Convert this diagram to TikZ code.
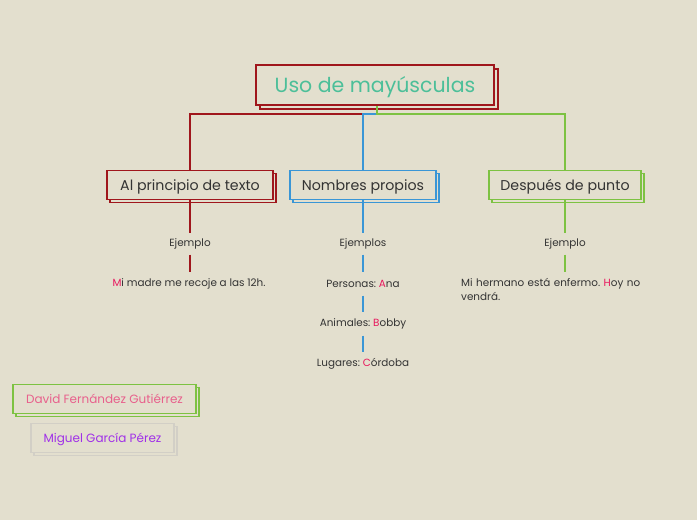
\documentclass[tikz,border=0pt]{standalone}
\usepackage{fontspec}
\setmainfont{Poppins}
\usetikzlibrary{positioning,shadows}
\definecolor{mbg}{HTML}{E3DFCE}
\definecolor{mred}{HTML}{A0161C}
\definecolor{mblue}{HTML}{3A96D6}
\definecolor{mgreen}{HTML}{7DC242}
\definecolor{mteal}{HTML}{4CBF99}
\definecolor{mpink}{HTML}{E8175D}
\definecolor{mrose}{HTML}{E8608C}
\definecolor{mpurple}{HTML}{A030E8}
\definecolor{mgrey}{HTML}{D2CFC6}
\definecolor{mtext}{HTML}{333333}
\frenchspacing

\begin{document}
\begin{tikzpicture}[x=1pt,y=-1pt, every node/.style={align=center,text=mtext},
  box/.style={draw,line width=1.2pt,fill=mbg,minimum height=29pt,inner sep=2pt,text height=12pt,text depth=2pt,font=\fontsize{14.2}{16}\selectfont,copy shadow={shadow xshift=3pt,shadow yshift=-3pt}},
  titlebox/.style={draw=mred,line width=1.6pt,fill=mbg,minimum width=238pt,minimum height=40pt,text height=17.4pt,text depth=3pt,font=\fontsize{20.5}{23}\selectfont,text=mteal,copy shadow={shadow xshift=4pt,shadow yshift=-4pt}},
  namebox/.style={box,text height=10.8pt,text depth=2pt,font=\fontsize{12}{14}\selectfont},
  sub/.style={font=\fontsize{10.4}{12}\selectfont,inner sep=0pt,minimum height=21pt},
  item/.style={sub,minimum height=23pt},
  link/.style={line width=2.6pt}]
\fill[mbg] (0,0) rectangle (697,520);
% title and branches
\node[titlebox] (title) at (375,85) {Uso de mayúsculas};
\node[box,draw=mred,minimum width=166pt] (intro) at (190,185) {Al principio de texto};
\node[box,draw=mblue,minimum width=146pt] (names) at (363,185) {Nombres propios};
\node[box,draw=mgreen,minimum width=152pt] (after) at (565,185) {Después de punto};
\coordinate (fork) at (377,114);
\draw[link,mred] (fork) -| (intro.north);
\draw[link,mblue] (fork) -| (names.north);
\draw[link,mgreen] (title.south -| fork) -- (fork) -| (after.north);
% examples
\node[sub] (ex1) at (190,244) {Ejemplo};
\node[item] (m1) at (189,284) {\textcolor{mpink}{M}i madre me recoje a las 12h.};
\node[sub] (ex2) at (363,244) {Ejemplos};
\node[item] (n1) at (363,284) {Personas: \textcolor{mpink}{A}na};
\node[item] (n2) at (363,324) {Animales: \textcolor{mpink}{B}obby};
\node[item] (n3) at (363,364) {Lugares: \textcolor{mpink}{C}órdoba};
\node[sub] (ex3) at (565,244) {Ejemplo};
\node[sub,anchor=north west,text width=190pt,align=left,inner ysep=6pt,font=\fontsize{10.4}{14}\selectfont] (p1) at (461,272) {\hyphenpenalty=10000 Mi hermano está enfermo. \textcolor{mpink}{H}oy no vendrá.};
\draw[link,mred] (intro.south) -- (ex1.north);
\draw[link,mred] (ex1.south) -- (ex1.south |- m1.north);
\draw[link,mblue] (names.south) -- (ex2.north);
\draw[link,mblue] (ex2.south) -- (n1.north);
\draw[link,mblue] (n1.south) -- (n2.north);
\draw[link,mblue] (n2.south) -- (n3.north);
\draw[link,mgreen] (after.south) -- (ex3.north);
\draw[link,mgreen] (ex3.south) -- (ex3.south |- p1.north);
% authors
\node[namebox,draw=mgreen,minimum width=183pt,text=mrose] (author1) at (104.5,399) {David Fernández Gutiérrez};
\node[namebox,draw=mgrey,minimum width=143pt,text=mpurple] (author2) at (102.5,438) {Miguel García Pérez};
\end{tikzpicture}
\end{document}
